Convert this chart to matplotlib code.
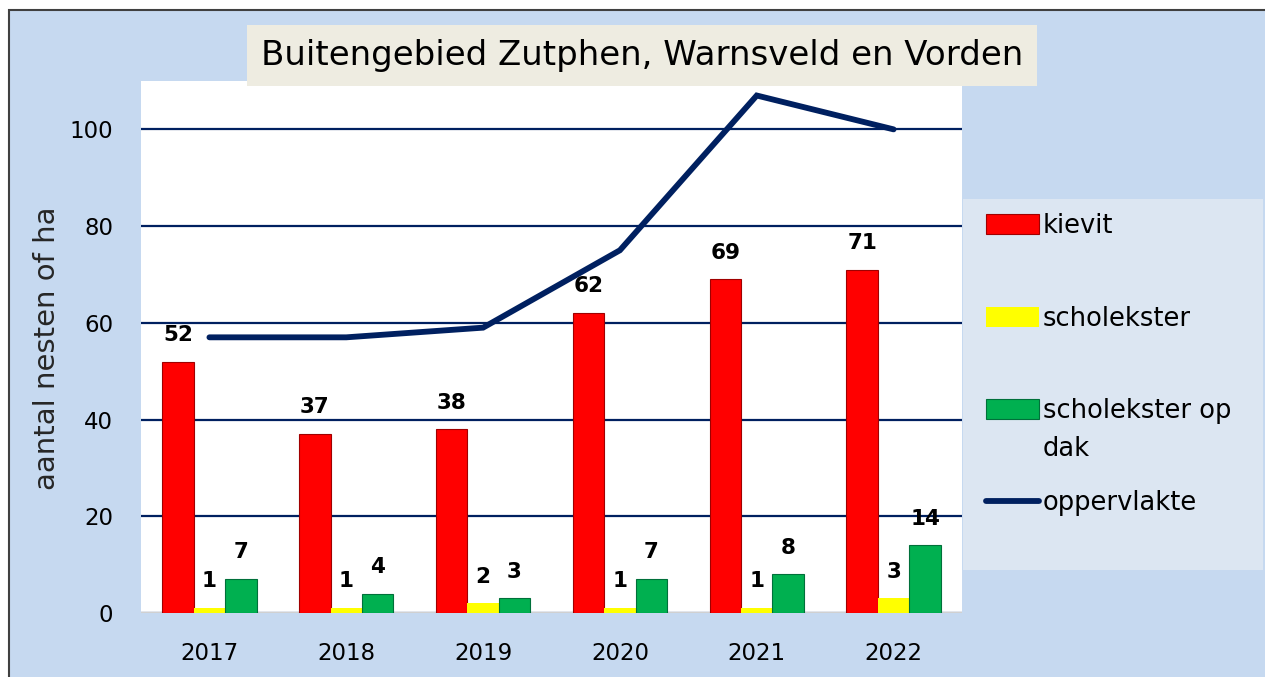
import matplotlib
matplotlib.use("Agg")
import matplotlib.pyplot as plt
from matplotlib.patches import Rectangle
import numpy as np

plt.rcParams["font.family"] = ["DejaVu Sans"]

# ============================================================
# 数据
# ============================================================
years = ["2017", "2018", "2019", "2020", "2021", "2022"]
kievit = [52, 37, 38, 62, 69, 71]
scholekster = [1, 1, 2, 1, 1, 3]
scholekster_dak = [7, 4, 3, 7, 8, 14]
oppervlakte = [57, 57, 59, 75, 107, 100]

BG = "#C6D9F0"
NAVY = "#002060"
W, H = 1265, 677

fig = plt.figure(figsize=(W / 100, H / 100), dpi=100, facecolor="white")

# 外框 + 背景
fig.patches.append(Rectangle((9 / W, -0.1), 1.2, 1 - 10 / H + 0.1, transform=fig.transFigure,
                             facecolor=BG, edgecolor="#404040", linewidth=1.5, zorder=-2))
# 标题框
fig.patches.append(Rectangle((247 / W, 1 - 86 / H), 790 / W, 61 / H, transform=fig.transFigure,
                             facecolor="#EEECE1", edgecolor="none", zorder=3))
fig.text(642 / W, 1 - 56 / H, "Buitengebied Zutphen, Warnsveld en Vorden",
         ha="center", va="center", fontsize=24.5, color="black", zorder=4)
# 图例框
fig.patches.append(Rectangle((963 / W, 1 - 570 / H), 300 / W, 371 / H, transform=fig.transFigure,
                             facecolor="#DCE6F2", edgecolor="none", zorder=-1))

ax = fig.add_axes([141 / W, 1 - 613 / H, 821 / W, 532 / H])
ax.set_zorder(1)
ax.set_facecolor("white")

x = np.arange(len(years))
bw = 0.23
b1 = ax.bar(x - bw, kievit, bw, color="#FF0000", edgecolor="#A00000", linewidth=0.8,
            label="kievit", zorder=3)
b2 = ax.bar(x, scholekster, bw, color="#FFFF00", edgecolor="none",
            label="scholekster", zorder=3)
b3 = ax.bar(x + bw, scholekster_dak, bw, color="#00B050", edgecolor="#00703A", linewidth=0.8,
            label="scholekster op dak", zorder=3)
ln, = ax.plot(x, oppervlakte, color=NAVY, linewidth=4.2, solid_capstyle="round",
              solid_joinstyle="miter", label="oppervlakte", zorder=4)

for bars in (b1, b2, b3):
    for bar in bars:
        ax.annotate(f"{bar.get_height():.0f}",
                    (bar.get_x() + bar.get_width() / 2, bar.get_height()),
                    xytext=(0, 12), textcoords="offset points",
                    ha="center", va="bottom", fontsize=15.5, fontweight="bold", zorder=5)

ax.set_xlim(-0.5, 5.5)
ax.set_ylim(0, 110)
ax.set_yticks([0, 20, 40, 60, 80, 100])
ax.set_xticks(x)
ax.set_xticklabels(years)
ax.tick_params(axis="both", length=0, labelsize=16.5)
ax.tick_params(axis="x", pad=21)
ax.tick_params(axis="y", pad=20)
ax.yaxis.grid(True, color=NAVY, linewidth=1.6, zorder=1)
ax.set_axisbelow(True)
for s in ax.spines.values():
    s.set_visible(False)
ax.axhline(0, color="#D0D0D0", linewidth=1.5, zorder=2)

fig.text(47 / W, 1 - 348 / H, "aantal nesten of ha", rotation=90, ha="center", va="center",
         fontsize=21, color="#262626")

# 图例（"dak" 作为第二行文字单独放置，使色块与第一行对齐）
leg = fig.legend([b1, b2, b3, ln], ["kievit", "scholekster", "scholekster op", "oppervlakte"],
                 loc="upper left", bbox_to_anchor=(976 / W, 1 - 203 / H), frameon=False,
                 fontsize=18.5, labelspacing=2.58, handlelength=2.05, handleheight=0.82,
                 handletextpad=0.15, borderaxespad=0)
leg.set_zorder(5)
fig.text(1043 / W, 1 - 449 / H, "dak", ha="left", va="center", fontsize=18.5, zorder=5)

fig.savefig("out.png", dpi=100, facecolor="white")
